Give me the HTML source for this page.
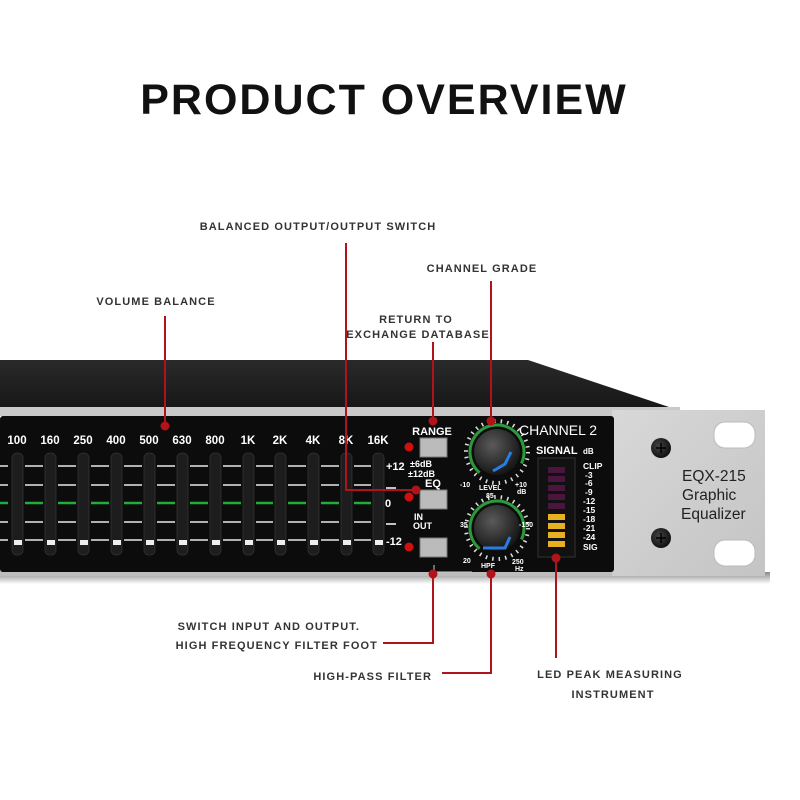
<!DOCTYPE html>
<html><head><meta charset="utf-8"><style>
html,body{margin:0;padding:0;background:#fff;width:800px;height:800px;overflow:hidden}
svg text{font-family:"Liberation Sans",sans-serif}
.lb{font-size:11px;font-weight:bold;fill:#333;letter-spacing:1.1px}
.w{fill:#fff;font-weight:bold}
</style></head><body>
<svg width="800" height="800" viewBox="0 0 800 800" xmlns="http://www.w3.org/2000/svg">
<defs>
<linearGradient id="top" x1="0" y1="0" x2="0" y2="1"><stop offset="0" stop-color="#2a2a2a"/><stop offset="1" stop-color="#161616"/></linearGradient>
<linearGradient id="sil" x1="0" y1="0" x2="1" y2="1"><stop offset="0" stop-color="#d8d8d8"/><stop offset="1" stop-color="#c4c4c4"/></linearGradient>
<radialGradient id="knob" cx="0.4" cy="0.35" r="0.7"><stop offset="0" stop-color="#5a5a5a"/><stop offset="1" stop-color="#111"/></radialGradient>
<radialGradient id="scr" cx="0.4" cy="0.4" r="0.6"><stop offset="0" stop-color="#444"/><stop offset="1" stop-color="#111"/></radialGradient>
<linearGradient id="shadow" x1="0" y1="0" x2="0" y2="1"><stop offset="0" stop-color="#888"/><stop offset="1" stop-color="#fff"/></linearGradient>
</defs>
<text x="384" y="114" text-anchor="middle" font-size="43" font-weight="bold" fill="#111" letter-spacing="2">PRODUCT OVERVIEW</text>

<polygon points="0,360 528,360 675,409 0,409" fill="url(#top)"/>
<rect x="0" y="407" width="680" height="9" fill="#c9c9c9"/>
<rect x="0" y="572" width="770" height="12" fill="url(#shadow)"/>
<rect x="0" y="570" width="615" height="6" fill="#bdbdbd"/>
<rect x="612" y="410" width="153" height="166" fill="url(#sil)"/>
<rect x="0" y="416" width="614" height="156" rx="3" fill="#0c0c0c"/>

<g fill="#fff" font-size="11.5" class="w" text-anchor="middle">
<text x="17" y="444" class="w">100</text><text x="50" y="444" class="w">160</text><text x="83" y="444" class="w">250</text><text x="116" y="444" class="w">400</text><text x="149" y="444" class="w">500</text><text x="182" y="444" class="w">630</text><text x="215" y="444" class="w">800</text><text x="248" y="444" class="w">1K</text><text x="280" y="444" class="w">2K</text><text x="313" y="444" class="w">4K</text><text x="346" y="444" class="w">8K</text><text x="378" y="444" class="w">16K</text>
</g>
<g stroke-width="1.6">
<g stroke="#e8e8e8">
<path d="M0 466H8M25 466H43M58 466H76M91 466H109M124 466H142M157 466H175M190 466H208M223 466H241M256 466H273M288 466H306M321 466H339M354 466H371"/>
<path d="M0 485H8M25 485H43M58 485H76M91 485H109M124 485H142M157 485H175M190 485H208M223 485H241M256 485H273M288 485H306M321 485H339M354 485H371"/>
<path d="M0 522H8M25 522H43M58 522H76M91 522H109M124 522H142M157 522H175M190 522H208M223 522H241M256 522H273M288 522H306M321 522H339M354 522H371"/>
<path d="M0 540H8M25 540H43M58 540H76M91 540H109M124 540H142M157 540H175M190 540H208M223 540H241M256 540H273M288 540H306M321 540H339M354 540H371"/>
</g>
<path stroke="#1fae3c" stroke-width="2.5" d="M0 503H8M25 503H43M58 503H76M91 503H109M124 503H142M157 503H175M190 503H208M223 503H241M256 503H273M288 503H306M321 503H339M354 503H371"/>
</g>
<g fill="#1d1d1d" stroke="#333" stroke-width="0.8">
<rect x="12" y="453" width="11" height="102" rx="5"/><rect x="45" y="453" width="11" height="102" rx="5"/><rect x="78" y="453" width="11" height="102" rx="5"/><rect x="111" y="453" width="11" height="102" rx="5"/><rect x="144" y="453" width="11" height="102" rx="5"/><rect x="177" y="453" width="11" height="102" rx="5"/><rect x="210" y="453" width="11" height="102" rx="5"/><rect x="243" y="453" width="11" height="102" rx="5"/><rect x="275" y="453" width="11" height="102" rx="5"/><rect x="308" y="453" width="11" height="102" rx="5"/><rect x="341" y="453" width="11" height="102" rx="5"/><rect x="373" y="453" width="11" height="102" rx="5"/>
</g>
<g fill="#eee">
<rect x="14" y="540" width="8" height="5"/><rect x="47" y="540" width="8" height="5"/><rect x="80" y="540" width="8" height="5"/><rect x="113" y="540" width="8" height="5"/><rect x="146" y="540" width="8" height="5"/><rect x="179" y="540" width="8" height="5"/><rect x="212" y="540" width="8" height="5"/><rect x="245" y="540" width="8" height="5"/><rect x="277" y="540" width="8" height="5"/><rect x="310" y="540" width="8" height="5"/><rect x="343" y="540" width="8" height="5"/><rect x="375" y="540" width="8" height="5"/>
</g>
<g fill="#fff" font-weight="bold" font-size="11">
<text x="386" y="470">+12</text><text x="385" y="507">0</text><text x="386" y="545">-12</text>
<path d="M386 488h10M386 524h10" stroke="#fff" stroke-width="1.5"/>
</g>

<text x="432" y="435" text-anchor="middle" font-size="11" fill="#fff" font-weight="bold">RANGE</text>
<g fill="#bbb" stroke="#777"><rect x="420" y="438" width="27" height="19"/><rect x="420" y="490" width="27" height="19"/><rect x="420" y="538" width="27" height="19"/></g>
<g fill="#d01010"><circle cx="409" cy="447" r="4.5"/><circle cx="409" cy="497" r="4.5"/><circle cx="409" cy="547" r="4.5"/></g>
<g fill="#fff" font-weight="bold" font-size="9">
<text x="410" y="467">±6dB</text><text x="408" y="477">±12dB</text>
<text x="433" y="487" text-anchor="middle" font-size="11">EQ</text>
<text x="414" y="520">IN</text><text x="413" y="529">OUT</text>
</g>
<path d="M434 565V572H472" stroke="#ccc" fill="none"/>
<g>
<circle cx="497" cy="452" r="31" fill="none" stroke="#ddd" stroke-width="4" stroke-dasharray="1.5 5"/>
<circle cx="497" cy="452" r="27" fill="none" stroke="#2c9a3a" stroke-width="3" stroke-dasharray="120 50" transform="rotate(130 497 452)"/>
<circle cx="497" cy="452" r="23" fill="url(#knob)"/>
<path d="M493 471L505 464L511 452" stroke="#2a7de0" stroke-width="3" fill="none"/>
<circle cx="497" cy="528" r="31" fill="none" stroke="#ddd" stroke-width="4" stroke-dasharray="1.5 5"/>
<circle cx="497" cy="528" r="27" fill="none" stroke="#2c9a3a" stroke-width="3" stroke-dasharray="120 50" transform="rotate(130 497 528)"/>
<circle cx="497" cy="528" r="23" fill="url(#knob)"/>
<path d="M483 548L505 548L510 537" stroke="#2a7de0" stroke-width="3" fill="none"/>
</g>
<g fill="#fff" font-weight="bold" font-size="7">
<text x="460" y="487">-10</text><text x="479" y="490">LEVEL</text><text x="486" y="498">85</text><text x="515" y="487">+10</text><text x="517" y="494">dB</text>
<text x="460" y="527">35</text><text x="519" y="527">-150</text><text x="463" y="563">20</text><text x="481" y="568">HPF</text><text x="512" y="564">250</text><text x="515" y="571">Hz</text>
</g>
<text x="519" y="435" font-size="14" fill="#fff">CHANNEL 2</text>
<text x="536" y="454" font-size="11" fill="#fff" font-weight="bold">SIGNAL</text><text x="583" y="454" font-size="8" fill="#fff" font-weight="bold">dB</text>
<rect x="538" y="458" width="37" height="99" fill="#111" stroke="#333"/>
<g fill="#4a1640"><rect x="548" y="467" width="17" height="6"/><rect x="548" y="476" width="17" height="6"/><rect x="548" y="485" width="17" height="6"/><rect x="548" y="494" width="17" height="6"/><rect x="548" y="503" width="17" height="6"/></g>
<g fill="#e8b020"><rect x="548" y="514" width="17" height="6"/><rect x="548" y="523" width="17" height="6"/><rect x="548" y="532" width="17" height="6"/><rect x="548" y="541" width="17" height="6"/></g>
<g fill="#fff" font-weight="bold" font-size="8.5">
<text x="583" y="469">CLIP</text><text x="585" y="478">-3</text><text x="585" y="486">-6</text><text x="585" y="495">-9</text><text x="583" y="504">-12</text><text x="583" y="513">-15</text><text x="583" y="522">-18</text><text x="583" y="531">-21</text><text x="583" y="540">-24</text><text x="583" y="550">SIG</text>
</g>

<rect x="714" y="422" width="41" height="26" rx="11" fill="#fff" stroke="#bbb"/>
<rect x="714" y="540" width="41" height="26" rx="11" fill="#fff" stroke="#bbb"/>
<circle cx="661" cy="448" r="10" fill="url(#scr)"/><circle cx="661" cy="538" r="10" fill="url(#scr)"/>
<path d="M656 448h10M661 443v10M656 538h10M661 533v10" stroke="#000" stroke-width="1.5"/>
<g font-size="15.5" fill="#222"><text x="682" y="481">EQX-215</text><text x="682" y="500">Graphic</text><text x="681" y="519">Equalizer</text></g>

<g stroke="#b0141a" stroke-width="2" fill="none">
<path d="M165 316V426"/>
<path d="M346 243V490H416"/>
<path d="M433 342V421"/>
<path d="M491 281V421"/>
<path d="M383 643H433V574"/>
<path d="M442 673H491V574"/>
<path d="M556 558V658"/>
</g>
<g fill="#b0141a"><circle cx="165" cy="426" r="4.5"/><circle cx="416" cy="490" r="4.5"/><circle cx="433" cy="421" r="4.5"/><circle cx="491" cy="421" r="4.5"/><circle cx="433" cy="574" r="4.5"/><circle cx="491" cy="574" r="4.5"/><circle cx="556" cy="558" r="4.5"/></g>
<g class="lb">
<text x="156" y="305" text-anchor="middle" class="lb">VOLUME BALANCE</text>
<text x="318" y="230" text-anchor="middle" class="lb">BALANCED OUTPUT/OUTPUT SWITCH</text>
<text x="482" y="272" text-anchor="middle" class="lb">CHANNEL GRADE</text>
<text x="416" y="323" text-anchor="middle" class="lb">RETURN TO</text>
<text x="418" y="338" text-anchor="middle" class="lb">EXCHANGE DATABASE</text>
<text x="360" y="630" text-anchor="end" class="lb">SWITCH INPUT AND OUTPUT.</text>
<text x="378" y="649" text-anchor="end" class="lb">HIGH FREQUENCY FILTER FOOT</text>
<text x="432" y="680" text-anchor="end" class="lb">HIGH-PASS FILTER</text>
<text x="610" y="678" text-anchor="middle" class="lb">LED PEAK MEASURING</text>
<text x="613" y="698" text-anchor="middle" class="lb">INSTRUMENT</text>
</g>
</svg>
</body></html>
